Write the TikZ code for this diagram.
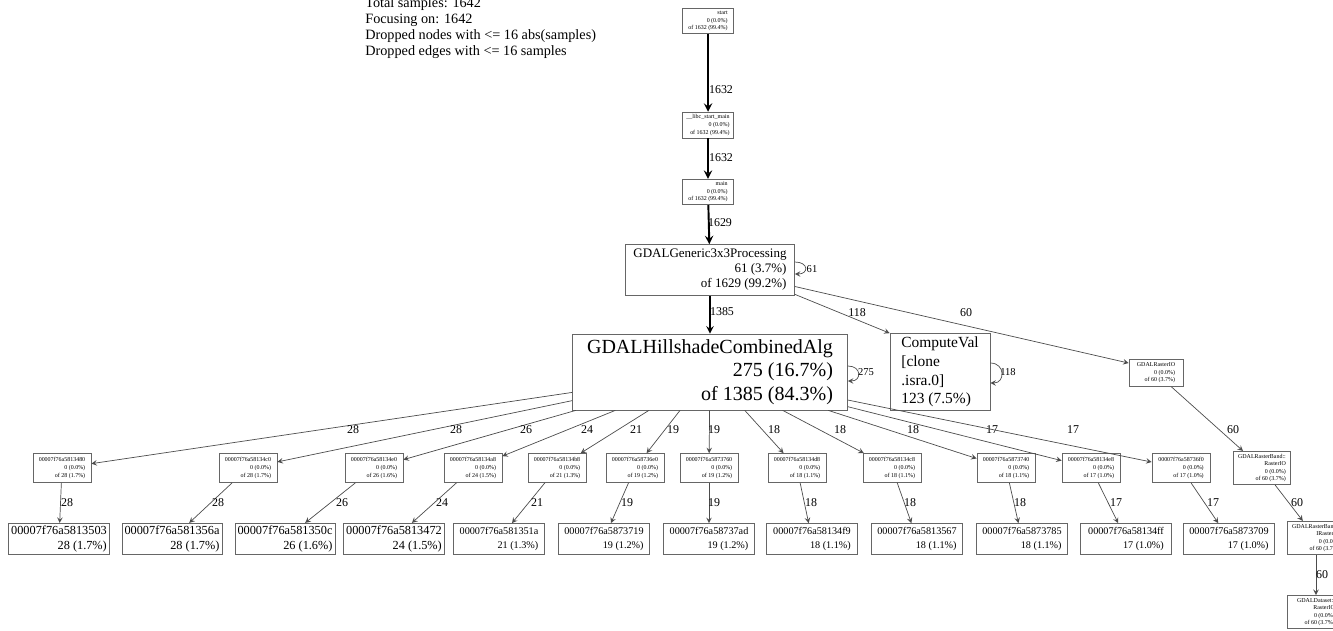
\documentclass[tikz,border=0pt]{standalone}
\usepackage{fontspec}
\setmainfont{Liberation Serif}
\usetikzlibrary{calc}

\tikzset{
  box/.style={draw=black!60, thin, rectangle, inner sep=1.5pt},
  tiny/.style={box, align=right, font=\fontsize{3.4}{4.3}\selectfont, minimum width=1.16cm, minimum height=0.58cm},
  leaf/.style={box, align=right, font=\fontsize{5.8}{7.5}\selectfont, minimum width=1.82cm, minimum height=0.62cm},
  leafbig/.style={leaf, font=\fontsize{7}{8.5}\selectfont},
  link/.style={->, >=stealth, draw=black!70, thin},
  heavy/.style={link, draw=black, line width=1.1pt},
  num/.style={font=\fontsize{6.8}{7}\selectfont, inner sep=0.5pt},
}

\begin{document}
\begin{tikzpicture}[x=0.02cm, y=-0.02cm]
\useasboundingbox (0,0) rectangle (1333,630);
% header text
\node[anchor=south west, inner sep=0, align=left, font=\fontsize{8.1}{9.1}\selectfont] (legend) at (365,59)
  {Total samples: 1642\\Focusing on: 1642\\Dropped nodes with <= 16 abs(samples)\\Dropped edges with <= 16 samples};

% call chain down to the filter
\node[tiny, minimum width=1.02cm, minimum height=0.5cm] (start) at (708,21) {start\\0 (0.0\%)\\of 1632 (99.4\%)};
\node[tiny, minimum width=1.02cm, minimum height=0.5cm] (libc) at (708,125) {\_\_libc\_start\_main\\0 (0.0\%)\\of 1632 (99.4\%)};
\node[tiny, minimum width=1.02cm, minimum height=0.5cm] (main) at (708,192) {main\\0 (0.0\%)\\of 1632 (99.4\%)};
\node[box, align=right, font=\fontsize{7.4}{8.5}\selectfont, minimum width=3.38cm, minimum height=1.02cm] (gen) at (710,270)
  {GDALGeneric3x3Processing\\61 (3.7\%)\\of 1629 (99.2\%)};
\node[box, align=right, font=\fontsize{11.4}{13.3}\selectfont, minimum width=5.5cm, minimum height=1.52cm] (hill) at (710,372)
  {GDALHillshadeCombinedAlg\\275 (16.7\%)\\of 1385 (84.3\%)};
\node[box, align=left, font=\fontsize{8.8}{10.6}\selectfont, minimum width=2cm, minimum height=1.54cm] (cval) at (940,372)
  {ComputeVal\\{[clone}\\.isra.0]\\123 (7.5\%)};

% raster io branch
\node[tiny, minimum width=1.08cm, minimum height=0.54cm] (rio) at (1156,373) {GDALRasterIO\\0 (0.0\%)\\of 60 (3.7\%)};
\node[tiny, minimum width=1.14cm, minimum height=0.64cm] (rband) at (1262,468) {GDALRasterBand::\\RasterIO\\0 (0.0\%)\\of 60 (3.7\%)};
\node[tiny, minimum width=1.14cm, minimum height=0.64cm] (rbimpl) at (1316,538) {GDALRasterBand::\\IRasterIO\\0 (0.0\%)\\of 60 (3.7\%)};
\node[tiny, minimum width=1.14cm, minimum height=0.64cm] (rblock) at (1316,612) {GDALDataset::\\RasterIO\\0 (0.0\%)\\of 60 (3.7\%)};

% main edges
\draw[heavy] (start) -- (libc);
\draw[heavy] (libc) -- (main);
\draw[heavy] (main) -- (gen);
\draw[heavy, line width=0.9pt] (gen) -- (hill);
\draw[link] (gen.-16) -- (cval.north west);
\draw[link] (gen.-11) -- (rio.160);
\draw[link] (rio) -- (rband);
\draw[link] (rband) -- (rbimpl);
\draw[link] (rbimpl) -- (rblock);
\node[num] (l1) at (721,90) {1632};
\node[num] (l2) at (721,158) {1632};
\node[num] (l3) at (720,223) {1629};
\node[num] (l4) at (722,312) {1385};
\node[num] (l5) at (857,313) {118};
\node[num] (l6) at (966,313) {60};
\node[num] (l7) at (1233,430) {60};
\node[num] (l8) at (1297,503) {60};
\node[num] (l9) at (1322,575) {60};

% self loops
\draw[link] ($(gen.east)+(0,-8)$) .. controls +(14,0) and +(14,0) .. ($(gen.east)+(0,4)$);
\node[num, font=\fontsize{6}{6}\selectfont] (s1) at (812,269) {61};
\draw[link] ($(hill.east)+(0,-6)$) .. controls +(14,0) and +(14,0) .. ($(hill.east)+(0,9)$);
\node[num, font=\fontsize{6}{6}\selectfont] (s2) at (866,372) {275};
\draw[link] ($(cval.east)+(0,-9)$) .. controls +(15,0) and +(15,0) .. ($(cval.east)+(0,11)$);
\node[num, font=\fontsize{6}{6}\selectfont] (s3) at (1008,372) {118};

% callers and leaf addresses
\foreach \i/\mx/\bx/\hex/\addr/\n/\pc/\la/\lb/\st in {
  1/62/59/00007f76a5813480/00007f76a5813503/28/1.7/353/67/leafbig,
  2/248/172/00007f76a58134c0/00007f76a581356a/28/1.7/456/218/leafbig,
  3/374/285/00007f76a58134e0/00007f76a581350c/26/1.6/526/342/leafbig,
  4/473/394/00007f76a58134a8/00007f76a5813472/24/1.5/587/442/leafbig,
  5/557/499/00007f76a58134b8/00007f76a581351a/21/1.3/636/537/leaf,
  6/635/604/00007f76a58736e0/00007f76a5873719/19/1.2/673/627/leaf,
  7/709/709/00007f76a5873760/00007f76a58737ad/19/1.2/714/714/leaf,
  8/797/812/00007f76a58134d8/00007f76a58134f9/18/1.1/774/811/leaf,
  9/892/917/00007f76a58134c8/00007f76a5813567/18/1.1/840/910/leaf,
  10/1006/1022/00007f76a5873740/00007f76a5873785/18/1.1/913/1020/leaf,
  11/1091/1126/00007f76a58134e8/00007f76a58134ff/17/1.0/992/1116/leaf,
  12/1181/1229/00007f76a58736f0/00007f76a5873709/17/1.0/1073/1213/leaf}
{
  \node[tiny] (m\i) at (\mx,468) {\hex\\0 (0.0\%)\\of \n{} (\pc\%)};
  \node[\st] (b\i) at (\bx,539) {\addr\\\n{} (\pc\%)};
  \draw[link] (hill) -- (m\i);
  \draw[link] (m\i) -- (b\i);
  \node[num] (u\i) at (\la,430) {\n};
  \node[num] (w\i) at (\lb,503) {\n};
}
\end{tikzpicture}
\end{document}
